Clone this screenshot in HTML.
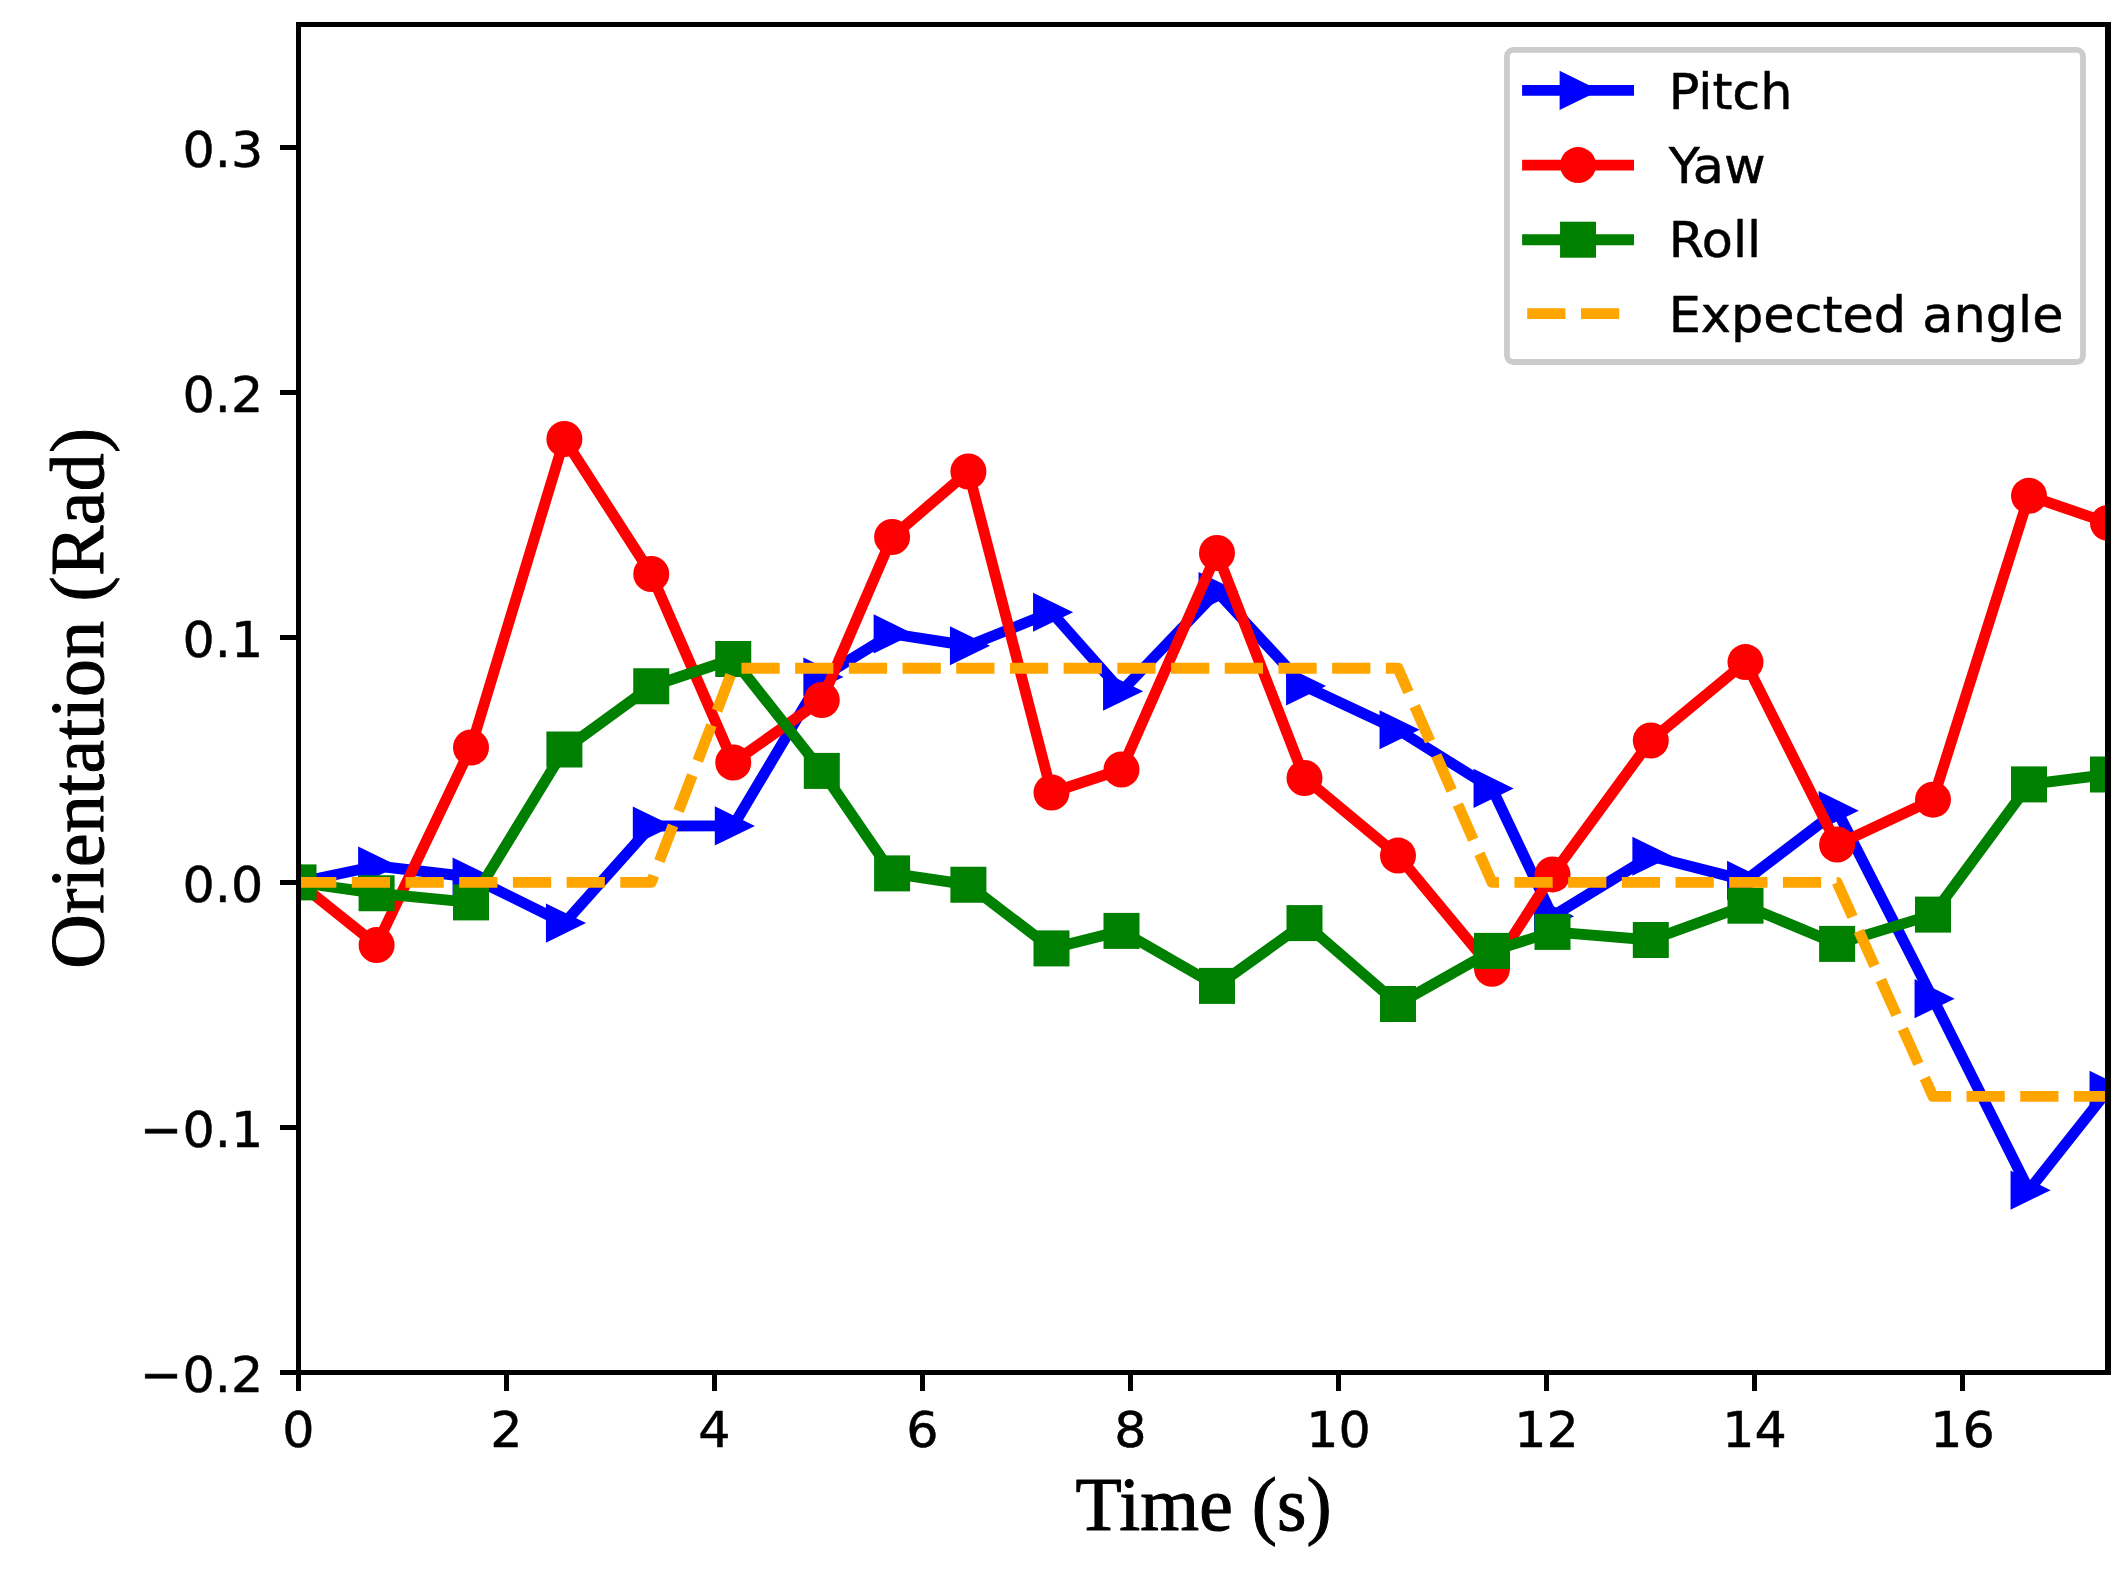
<!DOCTYPE html>
<html lang="en"><head><meta charset="utf-8"><title>Orientation vs Time</title>
<style>html,body{margin:0;padding:0;background:#fff}body{width:2128px;height:1575px;overflow:hidden}svg{display:block}.t{font-family:"DejaVu Sans","Liberation Sans",sans-serif;font-size:50.75px;fill:#000;stroke:#000;stroke-width:0.5px;stroke-linejoin:round}.l{font-family:"Liberation Serif","Times New Roman",serif;font-size:75.60px;fill:#000;stroke:#000;stroke-width:1.05px;stroke-linejoin:round;letter-spacing:0.1px}</style></head><body>
<svg width="2128" height="1575" viewBox="0 0 2128 1575">
<rect x="0" y="0" width="2128" height="1575" fill="#fff"/>
<defs><clipPath id="ax"><rect x="298.5" y="24.5" width="1809.5" height="1348.0"/></clipPath></defs>
<g clip-path="url(#ax)">
<polyline points="298.50,882.40 376.60,866.00 471.00,877.00 564.40,923.10 651.25,826.00 733.25,825.90 821.80,677.00 892.10,633.90 968.40,645.75 1051.50,612.25 1121.50,691.25 1217.00,591.50 1304.50,686.00 1398.00,729.75 1492.00,788.40 1552.50,916.25 1650.80,856.25 1745.50,880.40 1837.10,810.70 1933.00,998.65 2029.00,1190.20 2108.00,1090.30" fill="none" stroke="#0000ff" stroke-width="10.9" stroke-linejoin="round" stroke-linecap="butt"/>
<polygon points="320.15,882.40 280.05,862.80 280.05,902.00" fill="#0000ff"/>
<polygon points="398.25,866.00 358.15,846.40 358.15,885.60" fill="#0000ff"/>
<polygon points="492.65,877.00 452.55,857.40 452.55,896.60" fill="#0000ff"/>
<polygon points="586.05,923.10 545.95,903.50 545.95,942.70" fill="#0000ff"/>
<polygon points="672.90,826.00 632.80,806.40 632.80,845.60" fill="#0000ff"/>
<polygon points="754.90,825.90 714.80,806.30 714.80,845.50" fill="#0000ff"/>
<polygon points="843.45,677.00 803.35,657.40 803.35,696.60" fill="#0000ff"/>
<polygon points="913.75,633.90 873.65,614.30 873.65,653.50" fill="#0000ff"/>
<polygon points="990.05,645.75 949.95,626.15 949.95,665.35" fill="#0000ff"/>
<polygon points="1073.15,612.25 1033.05,592.65 1033.05,631.85" fill="#0000ff"/>
<polygon points="1143.15,691.25 1103.05,671.65 1103.05,710.85" fill="#0000ff"/>
<polygon points="1238.65,591.50 1198.55,571.90 1198.55,611.10" fill="#0000ff"/>
<polygon points="1326.15,686.00 1286.05,666.40 1286.05,705.60" fill="#0000ff"/>
<polygon points="1419.65,729.75 1379.55,710.15 1379.55,749.35" fill="#0000ff"/>
<polygon points="1513.65,788.40 1473.55,768.80 1473.55,808.00" fill="#0000ff"/>
<polygon points="1574.15,916.25 1534.05,896.65 1534.05,935.85" fill="#0000ff"/>
<polygon points="1672.45,856.25 1632.35,836.65 1632.35,875.85" fill="#0000ff"/>
<polygon points="1767.15,880.40 1727.05,860.80 1727.05,900.00" fill="#0000ff"/>
<polygon points="1858.75,810.70 1818.65,791.10 1818.65,830.30" fill="#0000ff"/>
<polygon points="1954.65,998.65 1914.55,979.05 1914.55,1018.25" fill="#0000ff"/>
<polygon points="2050.65,1190.20 2010.55,1170.60 2010.55,1209.80" fill="#0000ff"/>
<polygon points="2129.65,1090.30 2089.55,1070.70 2089.55,1109.90" fill="#0000ff"/>
<polyline points="298.50,882.40 376.60,945.10 471.00,747.50 564.40,439.00 651.25,574.00 733.25,762.50 821.80,700.00 892.10,537.00 968.40,471.50 1051.50,792.50 1121.50,769.50 1217.00,553.00 1304.50,778.00 1398.00,855.60 1492.00,968.75 1552.50,874.40 1650.80,740.50 1745.50,662.10 1837.10,844.60 1933.00,799.70 2029.00,495.80 2108.00,522.90" fill="none" stroke="#ff0000" stroke-width="10.9" stroke-linejoin="round"/>
<circle cx="298.50" cy="882.40" r="18.00" fill="#ff0000"/>
<circle cx="376.60" cy="945.10" r="18.00" fill="#ff0000"/>
<circle cx="471.00" cy="747.50" r="18.00" fill="#ff0000"/>
<circle cx="564.40" cy="439.00" r="18.00" fill="#ff0000"/>
<circle cx="651.25" cy="574.00" r="18.00" fill="#ff0000"/>
<circle cx="733.25" cy="762.50" r="18.00" fill="#ff0000"/>
<circle cx="821.80" cy="700.00" r="18.00" fill="#ff0000"/>
<circle cx="892.10" cy="537.00" r="18.00" fill="#ff0000"/>
<circle cx="968.40" cy="471.50" r="18.00" fill="#ff0000"/>
<circle cx="1051.50" cy="792.50" r="18.00" fill="#ff0000"/>
<circle cx="1121.50" cy="769.50" r="18.00" fill="#ff0000"/>
<circle cx="1217.00" cy="553.00" r="18.00" fill="#ff0000"/>
<circle cx="1304.50" cy="778.00" r="18.00" fill="#ff0000"/>
<circle cx="1398.00" cy="855.60" r="18.00" fill="#ff0000"/>
<circle cx="1492.00" cy="968.75" r="18.00" fill="#ff0000"/>
<circle cx="1552.50" cy="874.40" r="18.00" fill="#ff0000"/>
<circle cx="1650.80" cy="740.50" r="18.00" fill="#ff0000"/>
<circle cx="1745.50" cy="662.10" r="18.00" fill="#ff0000"/>
<circle cx="1837.10" cy="844.60" r="18.00" fill="#ff0000"/>
<circle cx="1933.00" cy="799.70" r="18.00" fill="#ff0000"/>
<circle cx="2029.00" cy="495.80" r="18.00" fill="#ff0000"/>
<circle cx="2108.00" cy="522.90" r="18.00" fill="#ff0000"/>
<polyline points="298.50,882.40 376.60,893.25 471.00,902.40 564.40,749.50 651.25,686.25 733.25,659.00 821.80,770.90 892.10,873.40 968.40,884.75 1051.50,948.40 1121.50,930.90 1217.00,985.90 1304.50,923.10 1398.00,1004.00 1492.00,950.90 1552.50,931.90 1650.80,940.00 1745.50,905.70 1837.10,943.90 1933.00,914.60 2029.00,784.40 2108.00,774.50" fill="none" stroke="#008000" stroke-width="10.9" stroke-linejoin="round"/>
<rect x="280.50" y="864.40" width="36.00" height="36.00" fill="#008000"/>
<rect x="358.60" y="875.25" width="36.00" height="36.00" fill="#008000"/>
<rect x="453.00" y="884.40" width="36.00" height="36.00" fill="#008000"/>
<rect x="546.40" y="731.50" width="36.00" height="36.00" fill="#008000"/>
<rect x="633.25" y="668.25" width="36.00" height="36.00" fill="#008000"/>
<rect x="715.25" y="641.00" width="36.00" height="36.00" fill="#008000"/>
<rect x="803.80" y="752.90" width="36.00" height="36.00" fill="#008000"/>
<rect x="874.10" y="855.40" width="36.00" height="36.00" fill="#008000"/>
<rect x="950.40" y="866.75" width="36.00" height="36.00" fill="#008000"/>
<rect x="1033.50" y="930.40" width="36.00" height="36.00" fill="#008000"/>
<rect x="1103.50" y="912.90" width="36.00" height="36.00" fill="#008000"/>
<rect x="1199.00" y="967.90" width="36.00" height="36.00" fill="#008000"/>
<rect x="1286.50" y="905.10" width="36.00" height="36.00" fill="#008000"/>
<rect x="1380.00" y="986.00" width="36.00" height="36.00" fill="#008000"/>
<rect x="1474.00" y="932.90" width="36.00" height="36.00" fill="#008000"/>
<rect x="1534.50" y="913.90" width="36.00" height="36.00" fill="#008000"/>
<rect x="1632.80" y="922.00" width="36.00" height="36.00" fill="#008000"/>
<rect x="1727.50" y="887.70" width="36.00" height="36.00" fill="#008000"/>
<rect x="1819.10" y="925.90" width="36.00" height="36.00" fill="#008000"/>
<rect x="1915.00" y="896.60" width="36.00" height="36.00" fill="#008000"/>
<rect x="2011.00" y="766.40" width="36.00" height="36.00" fill="#008000"/>
<rect x="2090.00" y="756.50" width="36.00" height="36.00" fill="#008000"/>
<polyline points="298.50,882.40 651.25,882.40 733.25,668.20 1398.00,668.20 1492.00,882.40 1837.10,882.40 1933.00,1096.40 2108.00,1096.40" fill="none" stroke="#ffa500" stroke-width="10.9" stroke-linejoin="round" stroke-dasharray="38.25 15.45" stroke-dashoffset="0.4"/>
</g>
<line x1="298.50" y1="1372.5" x2="298.50" y2="1391.0" stroke="#000" stroke-width="5.0"/>
<text class="t" transform="translate(298.50,1447.00) scale(1,0.982)" text-anchor="middle">0</text>
<line x1="506.50" y1="1372.5" x2="506.50" y2="1391.0" stroke="#000" stroke-width="5.0"/>
<text class="t" transform="translate(506.50,1447.00) scale(1,0.982)" text-anchor="middle">2</text>
<line x1="714.50" y1="1372.5" x2="714.50" y2="1391.0" stroke="#000" stroke-width="5.0"/>
<text class="t" transform="translate(714.50,1447.00) scale(1,0.982)" text-anchor="middle">4</text>
<line x1="922.50" y1="1372.5" x2="922.50" y2="1391.0" stroke="#000" stroke-width="5.0"/>
<text class="t" transform="translate(922.50,1447.00) scale(1,0.982)" text-anchor="middle">6</text>
<line x1="1130.50" y1="1372.5" x2="1130.50" y2="1391.0" stroke="#000" stroke-width="5.0"/>
<text class="t" transform="translate(1130.50,1447.00) scale(1,0.982)" text-anchor="middle">8</text>
<line x1="1338.50" y1="1372.5" x2="1338.50" y2="1391.0" stroke="#000" stroke-width="5.0"/>
<text class="t" transform="translate(1338.50,1447.00) scale(1,0.982)" text-anchor="middle">10</text>
<line x1="1546.50" y1="1372.5" x2="1546.50" y2="1391.0" stroke="#000" stroke-width="5.0"/>
<text class="t" transform="translate(1546.50,1447.00) scale(1,0.982)" text-anchor="middle">12</text>
<line x1="1754.50" y1="1372.5" x2="1754.50" y2="1391.0" stroke="#000" stroke-width="5.0"/>
<text class="t" transform="translate(1754.50,1447.00) scale(1,0.982)" text-anchor="middle">14</text>
<line x1="1962.50" y1="1372.5" x2="1962.50" y2="1391.0" stroke="#000" stroke-width="5.0"/>
<text class="t" transform="translate(1962.50,1447.00) scale(1,0.982)" text-anchor="middle">16</text>
<line x1="280.0" y1="1372.50" x2="298.5" y2="1372.50" stroke="#000" stroke-width="5.0"/>
<text class="t" transform="translate(263.20,1391.50) scale(1,0.982)" text-anchor="end">−0.2</text>
<line x1="280.0" y1="1127.50" x2="298.5" y2="1127.50" stroke="#000" stroke-width="5.0"/>
<text class="t" transform="translate(263.20,1146.50) scale(1,0.982)" text-anchor="end">−0.1</text>
<line x1="280.0" y1="882.50" x2="298.5" y2="882.50" stroke="#000" stroke-width="5.0"/>
<text class="t" transform="translate(263.20,901.50) scale(1,0.982)" text-anchor="end">0.0</text>
<line x1="280.0" y1="637.50" x2="298.5" y2="637.50" stroke="#000" stroke-width="5.0"/>
<text class="t" transform="translate(263.20,656.50) scale(1,0.982)" text-anchor="end">0.1</text>
<line x1="280.0" y1="392.50" x2="298.5" y2="392.50" stroke="#000" stroke-width="5.0"/>
<text class="t" transform="translate(263.20,411.50) scale(1,0.982)" text-anchor="end">0.2</text>
<line x1="280.0" y1="147.50" x2="298.5" y2="147.50" stroke="#000" stroke-width="5.0"/>
<text class="t" transform="translate(263.20,166.50) scale(1,0.982)" text-anchor="end">0.3</text>
<rect x="296" y="22" width="5" height="1353" fill="#000"/>
<rect x="2105" y="22" width="6" height="1353" fill="#000"/>
<rect x="296" y="22" width="1815" height="5" fill="#000"/>
<rect x="296" y="1370" width="1815" height="5" fill="#000"/>
<text class="l" x="1203.7" y="1529.8" text-anchor="middle">Time (s)</text>
<text class="l" style="letter-spacing:0.35px" transform="translate(103,698.2) rotate(-90)" text-anchor="middle">Orientation (Rad)</text>
<rect x="1506.95" y="49.9" width="576.05" height="312.1" rx="6.5" ry="6.5" fill="#fff" fill-opacity="0.8" stroke="#cccccc" stroke-width="5.8"/>
<line x1="1522.1" y1="90.4" x2="1634.0" y2="90.4" stroke="#0000ff" stroke-width="10.9"/>
<polygon points="1599.70,90.40 1559.60,70.80 1559.60,110.00" fill="#0000ff"/>
<line x1="1522.1" y1="165.1" x2="1634.0" y2="165.1" stroke="#ff0000" stroke-width="10.9"/>
<circle cx="1578.05" cy="165.1" r="18.00" fill="#ff0000"/>
<line x1="1522.1" y1="239.7" x2="1634.0" y2="239.7" stroke="#008000" stroke-width="10.9"/>
<rect x="1560.05" y="221.70" width="36.00" height="36.00" fill="#008000"/>
<line x1="1527.2" y1="313.6" x2="1628" y2="313.6" stroke="#ffa500" stroke-width="10.9" stroke-dasharray="38.2 15.6"/>
<text class="t" transform="translate(1668.70,108.70) scale(1,0.982)" text-anchor="start" style="font-size:50.9px">Pitch</text>
<text class="t" transform="translate(1668.70,182.60) scale(1,0.982)" text-anchor="start" style="font-size:50.9px">Yaw</text>
<text class="t" transform="translate(1668.70,256.70) scale(1,0.982)" text-anchor="start" style="font-size:50.9px">Roll</text>
<text class="t" transform="translate(1668.70,331.70) scale(1,0.982)" text-anchor="start" style="font-size:50.9px">Expected angle</text>
</svg></body></html>
